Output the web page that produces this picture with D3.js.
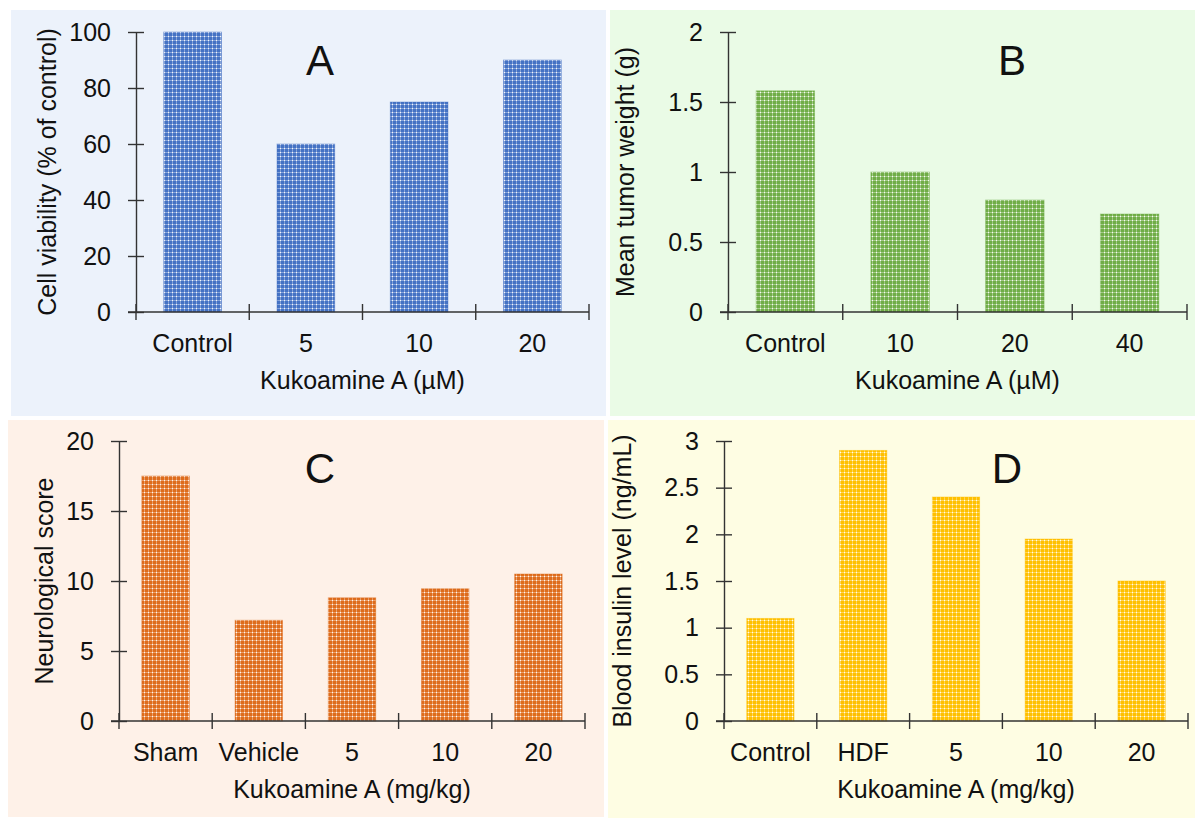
<!DOCTYPE html>
<html>
<head>
<meta charset="utf-8">
<script src="https://cdn.jsdelivr.net/npm/d3@7"></script>
<style>
  body { margin: 0; background: white; }
  #container { width: 1195px; height: 818px; }
</style>
</head>
<body>
<div id="container"></div>
<script>
// values
let catsA = ['Control', '5', '10', '20'];
let valsA = [100, 60, 75, 90];
let ticksA = [0, 20, 40, 60, 80, 100];

let catsB = ['Control', '10', '20', '40'];
let valsB = [1.58, 1.0, 0.8, 0.7];
let ticksB = [0, 0.5, 1, 1.5, 2];

let catsC = ['Sham', 'Vehicle', '5', '10', '20'];
let valsC = [17.5, 7.2, 8.8, 9.45, 10.5];
let ticksC = [0, 5, 10, 15, 20];

let catsD = ['Control', 'HDF', '5', '10', '20'];
let valsD = [1.1, 2.9, 2.4, 1.95, 1.5];
let ticksD = [0, 0.5, 1, 1.5, 2, 2.5, 3];

let w = 1195, h = 818;
let font = '"Liberation Sans", Arial, sans-serif';
let fs = 25;

let viz = d3.select('#container')
    .append('svg')
      .attr('width', w)
      .attr('height', h)
      .style('background', 'white');

let defs = viz.append('defs');

function makePattern(id, base) {
    let p = defs.append('pattern')
        .attr('id', id)
        .attr('patternUnits', 'userSpaceOnUse')
        .attr('width', 4)
        .attr('height', 4);
    p.append('rect').attr('width', 4).attr('height', 4).attr('fill', base);
    p.append('rect').attr('width', 1).attr('height', 4).attr('fill', 'white').attr('opacity', 0.35);
    p.append('rect').attr('width', 4).attr('height', 1).attr('fill', 'white').attr('opacity', 0.35);
    p.append('rect').attr('width', 1).attr('height', 1).attr('fill', 'white').attr('opacity', 0.85);
}

function panel(opt) {
    // background box
    viz.append('rect')
        .attr('x', opt.box[0])
        .attr('y', opt.box[1])
        .attr('width', opt.box[2] - opt.box[0])
        .attr('height', opt.box[3] - opt.box[1])
        .attr('fill', opt.bg);

    makePattern('pat' + opt.letter, opt.color);

    let g = viz.append('g');

    let x = d3.scaleBand()
        .domain(opt.cats)
        .range([opt.x0, opt.x1])
        .paddingInner(0.49)
        .paddingOuter(0.245);

    let y = d3.scaleLinear()
        .domain([0, opt.ticks[opt.ticks.length - 1]])
        .range([opt.y0, opt.y1]);

    // bars
    g.selectAll('.bar')
        .data(opt.vals)
        .enter()
        .append('rect')
          .attr('class', 'bar')
          .attr('x', (d, i) => x(opt.cats[i]))
          .attr('width', x.bandwidth())
          .attr('y', d => y(d))
          .attr('height', d => y(0) - y(d))
          .attr('fill', 'url(#pat' + opt.letter + ')')
          .attr('stroke', opt.color)
          .attr('stroke-opacity', 0.5)
          .attr('stroke-width', 0.8);

    // y axis
    let yAxis = g.append('g')
        .attr('transform', 'translate(' + opt.x0 + ',0)')
        .call(d3.axisLeft(y)
            .tickValues(opt.ticks)
            .tickFormat(d3.format('~g'))
            .tickSizeInner(8)
            .tickSizeOuter(0)
            .tickPadding(17));
    yAxis.selectAll('.tick line').attr('x1', 8);
    yAxis.selectAll('text')
        .attr('font-family', font)
        .attr('font-size', fs)
        .attr('fill', '#111');
    yAxis.selectAll('path, line').attr('stroke', '#333').attr('stroke-width', 1.4);

    // x axis: line, boundary ticks, labels
    let step = x.step();
    g.append('line')
        .attr('x1', opt.x0 - 8)
        .attr('x2', opt.x1)
        .attr('y1', opt.y0)
        .attr('y2', opt.y0)
        .attr('stroke', '#333')
        .attr('stroke-width', 1.4);

    g.selectAll('.xtick')
        .data(d3.range(opt.cats.length + 1))
        .enter()
        .append('line')
          .attr('class', 'xtick')
          .attr('x1', i => opt.x0 + i * step)
          .attr('x2', i => opt.x0 + i * step)
          .attr('y1', opt.y0 - 8)
          .attr('y2', opt.y0 + 8)
          .attr('stroke', '#333')
          .attr('stroke-width', 1.4);

    g.selectAll('.xlab')
        .data(opt.cats)
        .enter()
        .append('text')
          .attr('class', 'xlab')
          .attr('x', d => x(d) + x.bandwidth() / 2)
          .attr('y', opt.y0 + 40)
          .attr('text-anchor', 'middle')
          .attr('font-family', font)
          .attr('font-size', fs)
          .attr('fill', '#111')
          .text(d => d);

    // axis titles
    g.append('text')
        .attr('x', (opt.x0 + opt.x1) / 2)
        .attr('y', opt.y0 + 77)
        .attr('text-anchor', 'middle')
        .attr('font-family', font)
        .attr('font-size', fs)
        .attr('fill', '#111')
        .text(opt.xTitle);

    g.append('text')
        .attr('transform', 'translate(' + opt.yTitleX + ',' + ((opt.y0 + opt.y1) / 2) + ') rotate(-90)')
        .attr('text-anchor', 'middle')
        .attr('dy', '0.35em')
        .attr('font-family', font)
        .attr('font-size', fs)
        .attr('fill', '#111')
        .text(opt.yTitle);

    // panel letter
    g.append('text')
        .attr('x', opt.letterPos[0])
        .attr('y', opt.letterPos[1])
        .attr('text-anchor', 'middle')
        .attr('font-family', font)
        .attr('font-size', 42)
        .attr('fill', '#111')
        .text(opt.letter);
}

panel({
    letter: 'A', box: [11, 10, 606, 416], bg: '#ecf2fb', color: '#4472c4',
    cats: catsA, vals: valsA, ticks: ticksA,
    x0: 136, x1: 589, y0: 312, y1: 32,
    xTitle: 'Kukoamine A (\u00b5M)', yTitle: 'Cell viability (% of control)',
    yTitleX: 47, letterPos: [320, 75]
});

panel({
    letter: 'B', box: [610, 10, 1195, 416], bg: '#eafbe6', color: '#70ad47',
    cats: catsB, vals: valsB, ticks: ticksB,
    x0: 728, x1: 1187, y0: 312, y1: 32,
    xTitle: 'Kukoamine A (\u00b5M)', yTitle: 'Mean tumor weight (g)',
    yTitleX: 625, letterPos: [1012, 75]
});

panel({
    letter: 'C', box: [8, 420, 604, 817], bg: '#fef1e8', color: '#de6c1c',
    cats: catsC, vals: valsC, ticks: ticksC,
    x0: 119, x1: 585, y0: 721, y1: 441,
    xTitle: 'Kukoamine A (mg/kg)', yTitle: 'Neurological score',
    yTitleX: 44, letterPos: [320, 483]
});

panel({
    letter: 'D', box: [608, 420, 1195, 818], bg: '#fefde3', color: '#ffc000',
    cats: catsD, vals: valsD, ticks: ticksD,
    x0: 724, x1: 1188, y0: 721, y1: 441,
    xTitle: 'Kukoamine A (mg/kg)', yTitle: 'Blood insulin level (ng/mL)',
    yTitleX: 622, letterPos: [1007, 483]
});
</script>
</body>
</html>
